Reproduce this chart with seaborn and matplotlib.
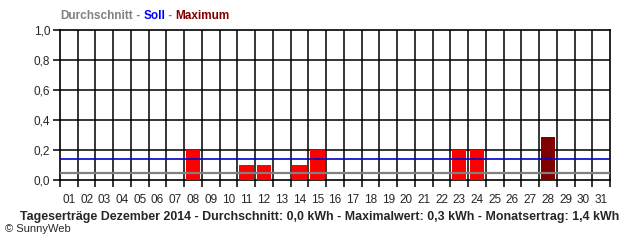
import matplotlib
matplotlib.use("Agg")
import matplotlib.pyplot as plt
import seaborn as sns
import pandas as pd
import numpy as np

days = [f"{d:02d}" for d in range(1, 32)]
values = [0, 0, 0, 0, 0, 0, 0, 0.2, 0, 0, 0.1, 0.1, 0, 0.1, 0.2, 0,
          0, 0, 0, 0, 0, 0, 0.2, 0.2, 0, 0, 0, 0.29, 0, 0, 0]
soll = 0.138
avg = 0.045
yticks = [0.0, 0.2, 0.4, 0.6, 0.8, 1.0]
ytick_labels = ["0,0", "0,2", "0,4", "0,6", "0,8", "1,0"]
title_parts = [("Durchschnitt", "#808080"), (" - ", "#808080"), ("Soll", "#0000ff"),
               (" - ", "#808080"), ("Maximum", "#800000")]
footer = "Tageserträge Dezember 2014 - Durchschnitt: 0,0 kWh - Maximalwert: 0,3 kWh - Monatsertrag: 1,4 kWh"

sns.set_style("white")
plt.rcParams['font.family'] = ['Liberation Sans', 'DejaVu Sans']

df = pd.DataFrame({"day": days, "value": values})
maxv = max(values)
palette = {d: ("#800000" if v == maxv else "#ff0000") for d, v in zip(days, values)}

fig = plt.figure(figsize=(6.4, 2.4), dpi=100)
ax = fig.add_axes([60/640, 60/240, 550/640, 150/240])
sns.barplot(data=df, x="day", y="value", hue="day", palette=palette, legend=False,
            dodge=False, width=0.82, saturation=1, ax=ax, zorder=3, linewidth=0, edgecolor="none")
bw = 0.82
for p in ax.patches:
    cx = p.get_x() + p.get_width() / 2
    p.set_x(cx - bw / 2)
    p.set_width(bw)
    p.set_antialiased(False)
ax.set_xlim(-0.5, 30.5)
ax.set_ylim(0, 1.0)
ax.set_xlabel("")
ax.set_ylabel("")

# grid lines
for b in np.arange(0.5, 30.5, 1.0):
    ax.axvline(b, color="black", lw=1.1, zorder=2)
for y in yticks[1:-1]:
    ax.axhline(y, color="black", lw=1.1, zorder=2)
ax.axhline(soll, color="#0000cc", lw=1.2, zorder=4)
ax.axhline(avg, color="#808080", lw=1.6, zorder=4)

for s in ax.spines.values():
    s.set_color("black")
    s.set_linewidth(1.2)

ax.set_yticks(yticks)
ax.set_yticklabels(ytick_labels, fontsize=8.5)
ax.set_xticks(range(31))
ax.set_xticklabels(days, fontsize=8.5)
ax.tick_params(axis="x", which="major", length=0, pad=10)
ax.set_xticks(np.arange(-0.5, 31, 1.0), minor=True)
ax.tick_params(axis="x", which="minor", length=5, width=1.1, direction="out", color="black")
ax.tick_params(axis="y", which="major", length=5, width=1.1, direction="out", color="black", pad=2)
ax.tick_params(left=True, bottom=True, which="both")

# colored title
fig.canvas.draw()
renderer = fig.canvas.get_renderer()
x = 60 / 640
for txt, col in title_parts:
    t = fig.text(x, 1 - 16/240, txt, color=col, fontsize=8.5, fontweight="bold", va="center", ha="left")
    bb = t.get_window_extent(renderer=renderer)
    x += bb.width / 640

fig.text(320/640, 1 - 217/240, footer, fontsize=8.9, fontweight="bold", ha="center", va="center")
fig.text(5/640, 1 - 229/240, "© SunnyWeb", fontsize=8, ha="left", va="center")

fig.savefig("out.png", dpi=100)
